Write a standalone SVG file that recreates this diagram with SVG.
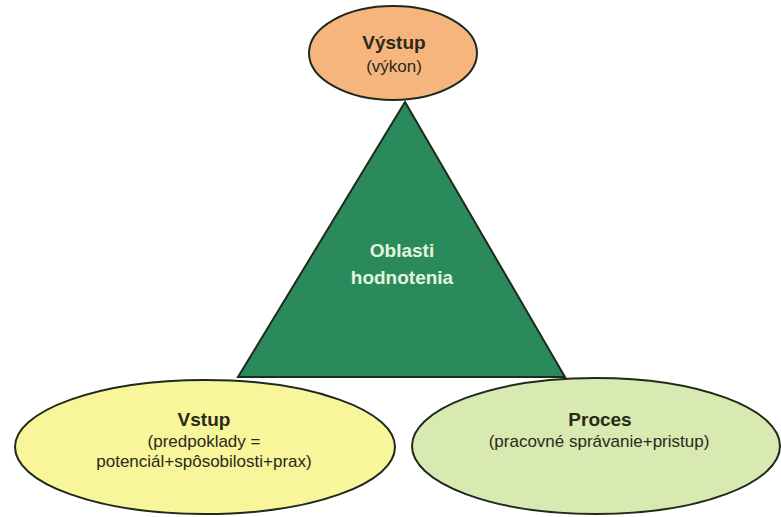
<svg xmlns="http://www.w3.org/2000/svg" width="781" height="517" viewBox="0 0 781 517">
<style>
.shape{stroke:#1e2a1a;stroke-width:2}
.t{font-family:"Liberation Sans",Arial,sans-serif;text-anchor:middle;fill:#2a2a1a}
.b{font-weight:bold;font-size:19px}
.n{font-size:17px}
</style>
<rect width="781" height="517" fill="#ffffff"/>
<g id="triangle">
<polygon class="shape" points="405,102 238,377 565,377" fill="#2b8a5c"/>
<text class="t b" x="402" y="257" style="fill:#e2f6dc">Oblasti</text>
<text class="t b" x="402" y="284" style="fill:#e2f6dc">hodnotenia</text>
</g>
<g id="vystup">
<ellipse class="shape" cx="393" cy="53" rx="84" ry="47" fill="#f7b57e"/>
<text class="t b" x="394" y="49">Výstup</text>
<text class="t n" x="394" y="72">(výkon)</text>
</g>
<g id="vstup">
<ellipse class="shape" cx="205" cy="447" rx="190" ry="67" fill="#f8f59b"/>
<text class="t b" x="204" y="426">Vstup</text>
<text class="t n" x="204" y="447">(predpoklady =</text>
<text class="t n" x="204" y="467">potenciál+spôsobilosti+prax)</text>
</g>
<g id="proces">
<ellipse class="shape" cx="596" cy="446" rx="184" ry="68" fill="#d8e9b2"/>
<text class="t b" x="600" y="426">Proces</text>
<text class="t n" x="599" y="447">(pracovné správanie+pristup)</text>
</g>
<g id="connectors"></g>
</svg>
